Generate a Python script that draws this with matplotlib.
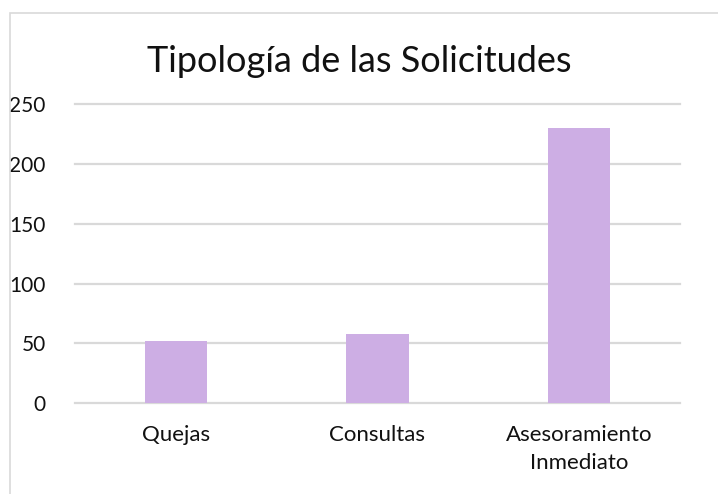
import matplotlib
matplotlib.use("Agg")
import matplotlib.pyplot as plt
from matplotlib.patches import Rectangle

categories = ["Quejas", "Consultas", "Asesoramiento\nInmediato"]
values = [52, 58, 230]
yticks = [0, 50, 100, 150, 200, 250]

plt.rcParams['font.family'] = ['Lato', 'DejaVu Sans']

fig = plt.figure(figsize=(7.18, 4.94), dpi=100)
ax = fig.add_axes([0.1045, 0.184, 0.8425, 0.605])

x = range(len(categories))
ax.bar(x, values, width=0.31, color="#cdaee4", zorder=3)

ax.set_xlim(-0.5, len(categories) - 0.5)
ax.set_ylim(0, 250)
ax.set_yticks(yticks)
ax.set_xticks(list(x))
ax.set_xticklabels(categories, fontsize=16, color="#111111", linespacing=1.45)
ax.set_yticklabels([str(t) for t in yticks], fontsize=15, color="#111111")
ax.tick_params(length=0)
ax.tick_params(axis='x', pad=16)
ax.tick_params(axis='y', pad=21)

ax.grid(axis='y', color="#d9d9d9", linewidth=1.6, zorder=0)
for gl in ax.get_ygridlines():
    gl.set_clip_on(False)
for s in ax.spines.values():
    s.set_visible(False)

fig.text(0.5, 0.875, "Tipología de las Solicitudes", ha='center', va='center',
         fontsize=26, color="#111111")

# chart frame
fig.patches.append(Rectangle((10 / 718, -0.1), 2, 1.1 - 13 / 494, transform=fig.transFigure,
                             fill=False, edgecolor="#d9d9d9", linewidth=1.2))

fig.savefig("out.png", dpi=100)
